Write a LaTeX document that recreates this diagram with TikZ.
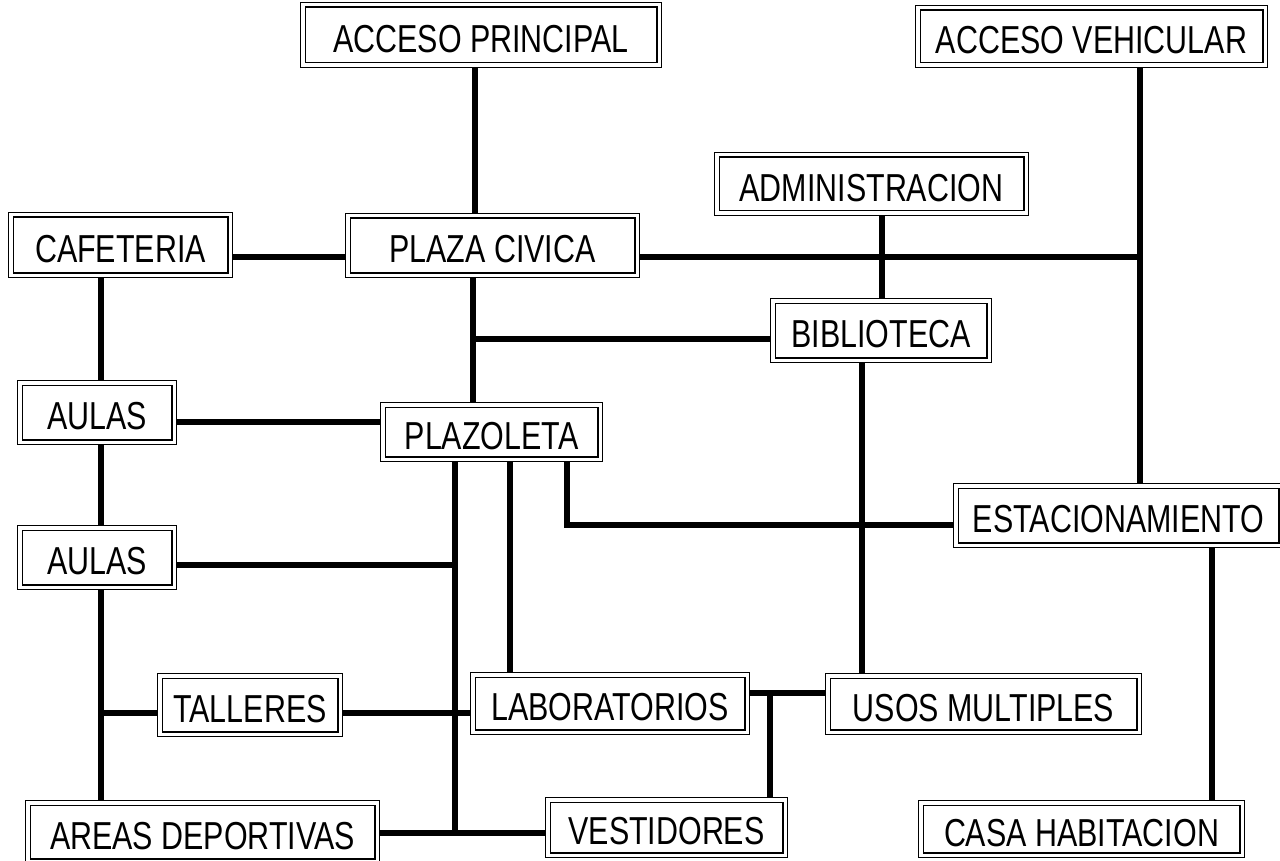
\documentclass[tikz,border=0pt]{standalone}
\usepackage{fontspec}
\setmainfont{Liberation Sans}
\pgfdeclarelayer{wires}
\pgfsetlayers{wires,main}

% condensed lettering for the room labels, set a little below the box centre
\newcommand\roomtext[1]{\raisebox{-4pt}[\height][\depth]{\scalebox{0.78}[1]{#1}}}

\tikzset{
  room/.style={draw=black, line width=1.3pt, double=white, double distance=3.2pt,
    fill=white, inner sep=0pt, outer sep=2.9pt,
    font=\fontsize{39}{40}\selectfont},
  link/.style={draw=black, line width=6pt, line cap=butt, line join=miter},
}

% \room{name}{x1}{y1}{x2}{y2}{label}: box given by its outer edges
\newcommand\room[6]{%
  \node[room, minimum width={#4pt-#2pt-5.8pt}, minimum height={#5pt-#3pt-5.8pt}]
    (#1) at ({(#2+#4)/2},{(#3+#5)/2}) {\roomtext{#6}};}

\begin{document}
\begin{tikzpicture}[x=1pt, y=-1pt]
\useasboundingbox (0,0) rectangle (1280,861);
\clip (0,0) rectangle (1280,861);

% rooms
\room{ap}{300}{2}{662}{68}{ACCESO PRINCIPAL}
\room{av}{915}{5}{1268}{68}{ACCESO VEHICULAR}
\room{adm}{714}{152}{1029}{216}{ADMINISTRACION}
\room{caf}{8}{212}{233}{278}{CAFETERIA}
\room{pc}{345}{213}{640}{278}{PLAZA CIVICA}
\room{bib}{770}{298}{992}{363}{BIBLIOTECA}
\room{aul1}{17}{380}{177}{445}{AULAS}
\room{plz}{380}{402}{603}{462}{PLAZOLETA}
\room{est}{953}{483}{1284}{548}{ESTACIONAMIENTO}
\room{aul2}{17}{525}{177}{590}{AULAS}
\room{tal}{157}{673}{343}{737}{TALLERES}
\room{lab}{470}{672}{750}{735}{LABORATORIOS}
\room{usm}{825}{673}{1142}{735}{USOS MULTIPLES}
\room{areas}{25}{800}{380}{864}{AREAS DEPORTIVAS}
\room{ves}{545}{797}{788}{858}{VESTIDORES}
\room{casa}{918}{800}{1245}{858}{CASA HABITACION}

% routing levels
\coordinate (xap) at (475,0);
\coordinate (ycv) at (0,257);
\coordinate (jv) at (1140,257);
\coordinate (xadm) at (882,0);
\coordinate (xpl) at (473,0);
\coordinate (jbib) at (473,339);
\coordinate (xaul) at (101,0);
\coordinate (ytal) at (0,713);
\coordinate (yaul1) at (0,422);
\coordinate (yaul2) at (0,565);
\coordinate (xa) at (455,0);
\coordinate (xb) at (510,0);
\coordinate (xc) at (567,0);
\coordinate (yest) at (0,525);
\coordinate (ydep) at (0,833);
\coordinate (xbu) at (862,0);
\coordinate (ylu) at (0,693);
\coordinate (xlv) at (770,0);
\coordinate (xcasa) at (1212,0);

% connectors
\begin{pgfonlayer}{wires}
\draw[link] (ap.south -| xap) -- (pc.north -| xap);
\draw[link] (caf.east |- ycv) -- (pc.west |- ycv);
\draw[link] (pc.east |- ycv) -- (jv);
\draw[link] (av.south -| jv) -- (est.north -| jv);
\draw[link] (adm.south -| xadm) -- (bib.north -| xadm);
\draw[link] (pc.south -| xpl) -- (plz.north -| xpl);
\draw[link] (jbib) -- (bib.west |- jbib);
\draw[link] (caf.south -| xaul) -- (aul1.north -| xaul);
\draw[link] (aul1.south -| xaul) -- (aul2.north -| xaul);
\draw[link] (aul2.south -| xaul) -- (areas.north -| xaul);
\draw[link] (xaul |- ytal) -- (tal.west |- ytal);
\draw[link] (tal.east |- ytal) -- (lab.west |- ytal);
\draw[link] (aul1.east |- yaul1) -- (plz.west |- yaul1);
\draw[link] (plz.south -| xa) -- (xa |- ydep);
\draw[link] (aul2.east |- yaul2) -- (xa |- yaul2);
\draw[link] (plz.south -| xb) -- (lab.north -| xb);
\draw[link] (plz.south -| xc) -- (xc |- yest) -- (est.west |- yest);
\draw[link] (bib.south -| xbu) -- (usm.north -| xbu);
\draw[link] (lab.east |- ylu) -- (usm.west |- ylu);
\draw[link] (xlv |- ylu) -- (ves.north -| xlv);
\draw[link] (areas.east |- ydep) -- (ves.west |- ydep);
\draw[link] (est.south -| xcasa) -- (casa.north -| xcasa);
\end{pgfonlayer}
\end{tikzpicture}
\end{document}
